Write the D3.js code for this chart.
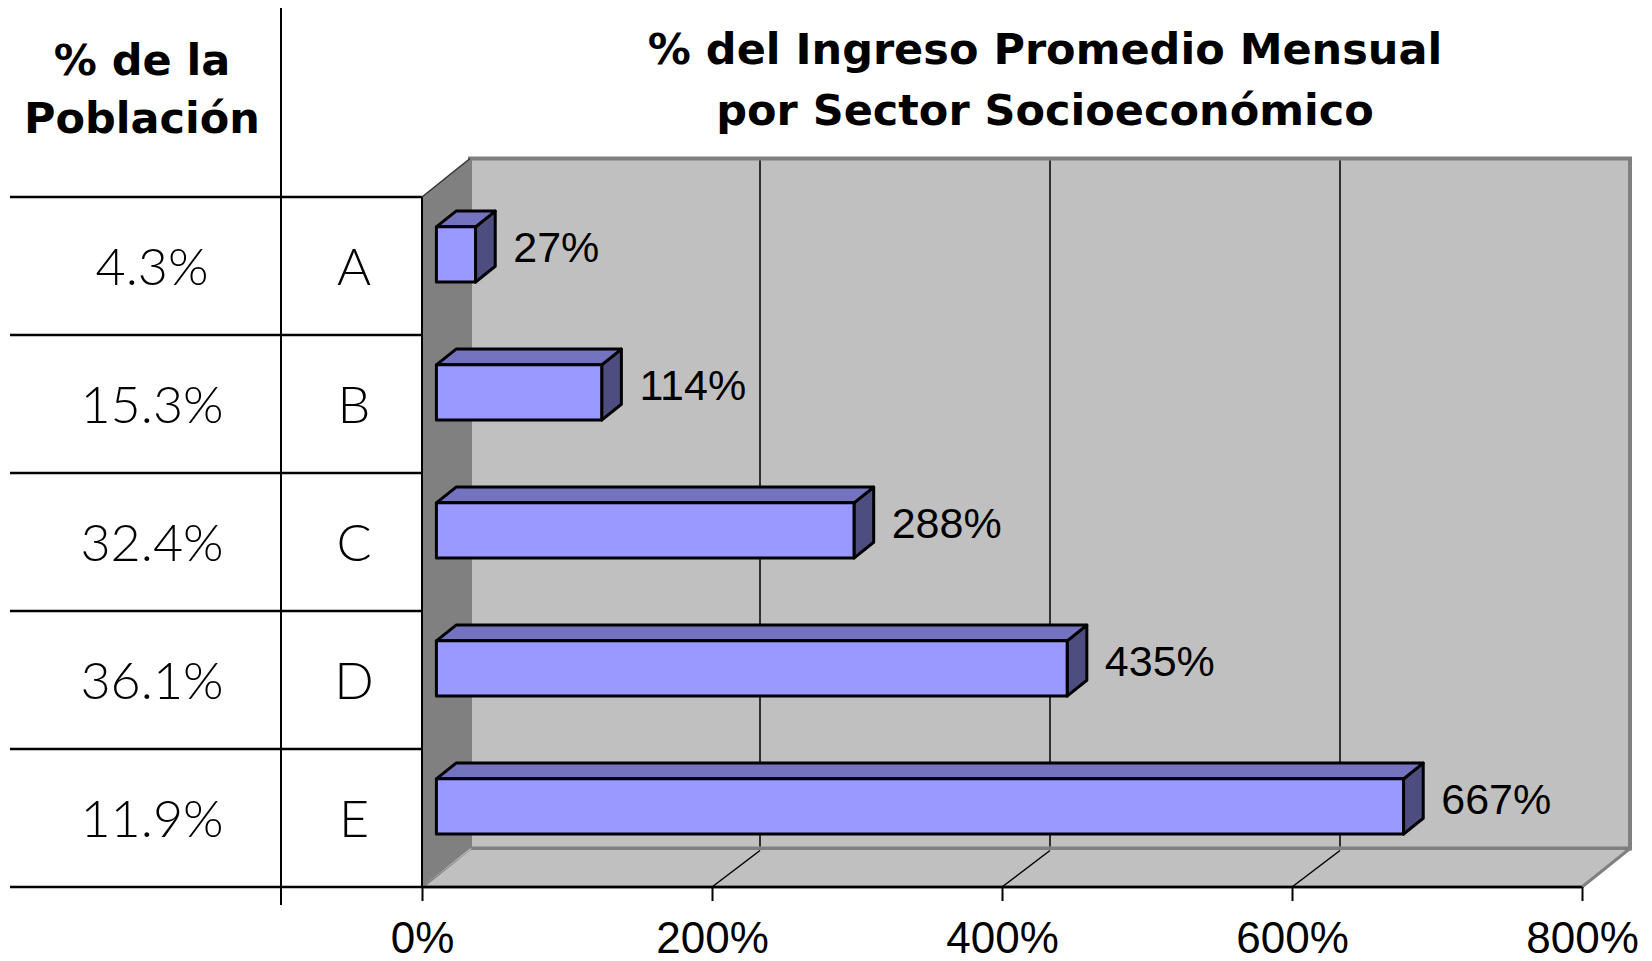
<!DOCTYPE html>
<html>
<head>
<meta charset="utf-8">
<script src="https://cdn.jsdelivr.net/npm/d3@7"></script>
<style>
  body { margin: 0; background: #fff; }
</style>
</head>
<body>
<div id="chart"></div>
<script>
// data
var sectores = ["A", "B", "C", "D", "E"];
var poblacion = [4.3, 15.3, 32.4, 36.1, 11.9];
var ingreso = [27, 114, 288, 435, 667];
var ticks = [0, 200, 400, 600, 800];

var width = 1652,
    height = 961;

var svg = d3.select("#chart")
    .append("svg")
    .attr("width", width)
    .attr("height", height)
    .style("display", "block");

svg.append("rect").attr("width", width).attr("height", height).attr("fill", "#fff");

// 3d depth vector
var DX = 48, DY = 38.5;
var z0 = 0.3, z1 = 0.71;

var x = d3.scaleLinear().domain([0, 800]).range([422, 1582]);
var y = d3.scaleBand().domain(sectores)
    .range([197, 887])
    .paddingInner(0.6)
    .paddingOuter(0.3);

var x0 = x(0), x1 = x(800), yTop = y.range()[0], yBot = y.range()[1];

// walls
svg.append("rect")
    .attr("x", x0 + DX).attr("y", yTop - DY)
    .attr("width", x1 - x0).attr("height", yBot - yTop)
    .attr("fill", "#c0c0c0")
    .attr("stroke", "#808080").attr("stroke-width", 4);

svg.append("polygon")
    .attr("points", [[x0, yBot], [x0 + DX, yBot - DY], [x1 + DX, yBot - DY], [x1, yBot]].join(" "))
    .attr("fill", "#c0c0c0")
    .attr("stroke", "#808080").attr("stroke-width", 3)
    .attr("stroke-linejoin", "round");

svg.append("polygon")
    .attr("points", [[x0, yTop], [x0 + DX, yTop - DY], [x0 + DX, yBot - DY], [x0, yBot]].join(" "))
    .attr("fill", "#808080");

svg.append("line")
    .attr("x1", x0).attr("y1", yTop).attr("x2", x0 + DX).attr("y2", yTop - DY)
    .attr("stroke", "#333").attr("stroke-width", 1.5);
svg.append("polygon")
    .attr("points", [[x0, yBot], [x0 + DX, yBot - DY], [x0 + DX + 2, yBot - DY]].join(" "))
    .attr("fill", "#c0c0c0");

// gridlines
var inner = ticks.filter(function(d) { return d > 0 && d < 800; });
svg.selectAll(".grid-back")
    .data(inner)
    .enter().append("line")
    .attr("class", "grid-back")
    .attr("x1", function(d) { return x(d) + DX; })
    .attr("x2", function(d) { return x(d) + DX; })
    .attr("y1", yTop - DY + 2)
    .attr("y2", yBot - DY - 2)
    .attr("stroke", "#000").attr("stroke-width", 1.5);

svg.selectAll(".grid-floor")
    .data(inner)
    .enter().append("line")
    .attr("class", "grid-floor")
    .attr("x1", function(d) { return x(d); })
    .attr("y1", yBot)
    .attr("x2", function(d) { return x(d) + DX; })
    .attr("y2", yBot - DY + 2)
    .attr("stroke", "#000").attr("stroke-width", 1.5);

// front edges
svg.append("line")
    .attr("x1", x0).attr("x2", x1).attr("y1", yBot).attr("y2", yBot)
    .attr("stroke", "#000").attr("stroke-width", 2.5);
svg.append("line")
    .attr("x1", x0).attr("x2", x0).attr("y1", yTop).attr("y2", yBot)
    .attr("stroke", "#000").attr("stroke-width", 2);

// x axis
var xAxis = d3.axisBottom(x)
    .tickValues(ticks)
    .tickSize(14)
    .tickPadding(21)
    .tickFormat(function(d) { return d + "%"; });

var gx = svg.append("g")
    .attr("transform", "translate(0," + yBot + ")")
    .call(xAxis);
gx.select(".domain").remove();
gx.selectAll(".tick line").attr("stroke", "#000").attr("stroke-width", 2);
gx.selectAll(".tick text")
    .attr("fill", "#000")
    .style("font-family", "'Liberation Sans', Arial, sans-serif")
    .style("font-size", "44px");

// bars
var data = sectores.map(function(s, i) {
    return { sector: s, pob: poblacion[i], ing: ingreso[i] };
});
var bw = y.bandwidth();

var bars = svg.selectAll(".bar")
    .data(data)
    .enter().append("g")
    .attr("class", "bar");

function pts(arr) { return arr.map(function(p) { return p.join(","); }).join(" "); }

bars.append("polygon")
    .attr("points", function(d) {
        var xa = x(d.ing) + z0 * DX, xb = x(d.ing) + z1 * DX;
        var ya = y(d.sector) - z0 * DY, yb = y(d.sector) - z1 * DY;
        return pts([[xa, ya], [xb, yb], [xb, yb + bw], [xa, ya + bw]]);
    })
    .attr("fill", "#4d4d80");

bars.append("polygon")
    .attr("points", function(d) {
        var ya = y(d.sector) - z0 * DY, yb = y(d.sector) - z1 * DY;
        return pts([[x0 + z0 * DX, ya], [x(d.ing) + z0 * DX, ya], [x(d.ing) + z1 * DX, yb], [x0 + z1 * DX, yb]]);
    })
    .attr("fill", "#7373bf");

bars.append("rect")
    .attr("x", x0 + z0 * DX)
    .attr("y", function(d) { return y(d.sector) - z0 * DY; })
    .attr("width", function(d) { return x(d.ing) - x0; })
    .attr("height", bw)
    .attr("fill", "#9999ff");

bars.selectAll("polygon, rect")
    .attr("stroke", "#000")
    .attr("stroke-width", 3)
    .attr("stroke-linejoin", "round");

// value labels
svg.selectAll(".val")
    .data(data)
    .enter().append("text")
    .attr("class", "val")
    .attr("x", function(d) { return x(d.ing) + z1 * DX + 18; })
    .attr("y", function(d) { return y(d.sector) + bw / 2 - (z0 + z1) / 2 * DY + 15; })
    .style("font-family", "'Liberation Sans', Arial, sans-serif")
    .style("font-size", "43px")
    .text(function(d) { return d.ing + "%"; });

// table at left
var bounds = [yTop].concat(sectores.map(function(s) { return y(s) - y.step() * y.paddingInner() / 2; }).slice(1)).concat([yBot]);

svg.selectAll(".row-line")
    .data(bounds)
    .enter().append("line")
    .attr("class", "row-line")
    .attr("x1", 10).attr("x2", x0)
    .attr("y1", function(d) { return d; })
    .attr("y2", function(d) { return d; })
    .attr("stroke", "#000").attr("stroke-width", 2.5);

svg.append("line")
    .attr("x1", 281).attr("x2", 281).attr("y1", 8).attr("y2", 905)
    .attr("stroke", "#000").attr("stroke-width", 2);

var light = "Lato, 'Open Sans', sans-serif";
svg.selectAll(".pob")
    .data(data)
    .enter().append("text")
    .attr("class", "pob")
    .attr("x", 152)
    .attr("y", function(d) { return y(d.sector) + bw / 2 + 19; })
    .attr("text-anchor", "middle")
    .style("font-family", light)
    .style("font-weight", 300)
    .style("font-size", "52px")
    .text(function(d) { return d3.format(".1f")(d.pob) + "%"; });

svg.selectAll(".sec")
    .data(data)
    .enter().append("text")
    .attr("class", "sec")
    .attr("x", 354)
    .attr("y", function(d) { return y(d.sector) + bw / 2 + 19; })
    .attr("text-anchor", "middle")
    .style("font-family", light)
    .style("font-weight", 300)
    .style("font-size", "52px")
    .text(function(d) { return d.sector; });

// headings
var head = svg.append("text")
    .attr("text-anchor", "middle")
    .style("font-family", "'DejaVu Sans', sans-serif")
    .style("font-weight", "bold")
    .style("font-size", "43px");
head.append("tspan").attr("x", 142).attr("y", 75).text("% de la");
head.append("tspan").attr("x", 142).attr("y", 133).text("Población");

var title = svg.append("text")
    .attr("text-anchor", "middle")
    .style("font-family", "'DejaVu Sans', sans-serif")
    .style("font-weight", "bold")
    .style("font-size", "43px");
title.append("tspan").attr("x", 1045).attr("y", 64).text("% del Ingreso Promedio Mensual");
title.append("tspan").attr("x", 1045).attr("y", 125).text("por Sector Socioeconómico");
</script>
</body>
</html>
